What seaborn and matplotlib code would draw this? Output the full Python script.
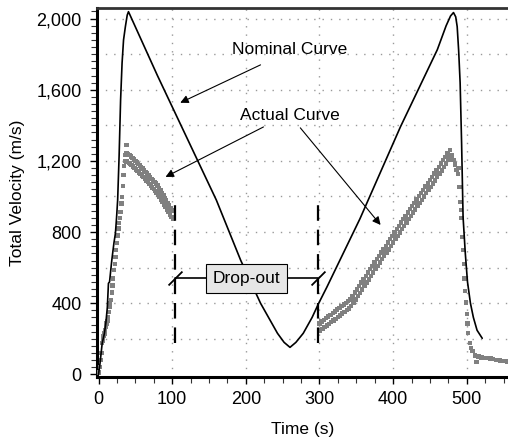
import matplotlib
matplotlib.use("Agg")
import matplotlib.pyplot as plt
import matplotlib.ticker as mticker
import numpy as np
import pandas as pd
import seaborn as sns

# nominal trajectory (black line)
nominal_t = [0, 2, 5, 8, 10, 12, 13.5, 15, 18, 21, 23, 24.5, 26, 28, 30, 32, 34, 36.5, 39, 40.7,
             80, 120, 160, 193, 220, 243, 252, 260, 268, 278, 290, 299, 310, 355, 410, 460,
             472, 478, 482, 485, 487, 489, 491, 493, 495, 498, 501, 505, 509, 514, 521]
nominal_v = [0, 60, 175, 230, 290, 377, 512, 520, 640, 740, 794, 880, 980, 1230, 1543, 1750, 1880, 1955, 2020, 2039,
             1680, 1330, 980, 642, 400, 231, 180, 152, 180, 231, 320, 400, 490, 875, 1392, 1825,
             1960, 2015, 2034, 2010, 1955, 1820, 1640, 1300, 885, 682, 520, 400, 320, 248, 203]

# actual trajectory (gray samples), before the drop-out
actual1_t = [1, 2, 3, 4, 5, 6, 7, 8, 9, 10, 11, 12, 13, 14, 15, 16, 17, 18, 19, 20,
             21, 22, 23, 24, 25, 26, 27, 28, 29, 30, 31, 32, 33, 34, 35, 36, 37, 38,
             36, 38, 40, 42, 44, 46, 48, 50, 52, 54, 56, 58, 60, 62, 64, 66, 68, 70,
             72, 74, 76, 78, 80, 82, 84, 86, 88, 90, 92, 94, 96, 98, 100,
             37, 39, 41, 43, 45, 47, 49, 51, 53, 55, 57, 59, 61, 63, 65, 67, 69, 71,
             73, 75, 77, 79, 81, 83, 85, 87, 89, 91, 93, 95, 97, 99, 101]
actual1_v = [10, 40, 80, 120, 175, 190, 215, 230, 250, 265, 285, 300, 320, 350, 380, 400, 417, 460, 500, 540,
             586, 620, 660, 700, 740, 780, 820, 850, 880, 912, 960, 997, 1060, 1120, 1170, 1200, 1240, 1290,
             1232, 1242, 1237, 1232, 1225, 1217, 1209, 1200, 1192, 1183, 1175, 1166, 1157, 1148, 1138, 1129, 1119, 1110,
             1100, 1091, 1081, 1072, 1062, 1048, 1034, 1020, 1006, 992, 978, 964, 950, 936, 922,
             1195, 1196, 1190, 1185, 1177, 1169, 1160, 1152, 1143, 1135, 1126, 1117, 1108, 1099, 1089, 1080, 1070, 1061,
             1051, 1042, 1032, 1023, 1011, 997, 983, 969, 955, 941, 927, 913, 899, 885, 872]

# actual trajectory after the drop-out
actual2_t = [300, 303, 306, 309, 312, 315, 318, 321, 324, 327, 330, 333, 336, 339, 342, 345, 348, 351, 354, 357,
             360, 363, 366, 369, 372, 375, 378, 381, 384, 387, 390, 393, 396, 399, 402, 405, 408, 411, 414, 417,
             420, 423, 426, 429, 432, 435, 438, 441, 444, 447, 450, 453, 456, 459, 462, 465, 468, 471, 474, 477,
             301, 304, 307, 310, 313, 316, 319, 322, 325, 328, 331, 334, 337, 340, 343, 346, 349, 352, 355, 358,
             361, 364, 367, 370, 373, 376, 379, 382, 385, 388, 391, 394, 397, 400, 403, 406, 409, 412, 415, 418,
             421, 424, 427, 430, 433, 436, 439, 442, 445, 448, 451, 454, 457, 460, 463, 466, 469, 472, 475, 478,
             480, 482, 484, 486, 488, 489, 490, 491, 492, 493, 494, 495, 496, 497, 498, 499, 500, 501, 502,
             504, 506, 508, 511, 513, 516, 520, 524, 528, 532, 536, 540, 545, 550, 555]
actual2_v = [287, 297, 306, 316, 325, 335, 345, 354, 364, 373, 383, 393, 402, 412, 422, 441, 460, 478, 497, 516,
             535, 554, 572, 591, 610, 629, 648, 666, 685, 704, 723, 741, 760, 779, 798, 816, 835, 854, 873, 891,
             910, 929, 947, 965, 984, 1002, 1020, 1038, 1057, 1075, 1093, 1111, 1129, 1148, 1167, 1185, 1204, 1223, 1242, 1261,
             246, 256, 265, 275, 284, 294, 304, 313, 323, 332, 342, 352, 361, 371, 384, 403, 422, 440, 459, 478,
             497, 516, 534, 553, 572, 591, 610, 628, 647, 666, 685, 703, 722, 741, 760, 778, 797, 816, 835, 853,
             872, 891, 909, 927, 946, 964, 982, 1000, 1019, 1037, 1055, 1073, 1091, 1110, 1129, 1147, 1166, 1185, 1204, 1222,
             1230, 1205, 1180, 1150, 1125, 1160, 1053, 970, 924, 878, 772, 700, 620, 540, 470, 405, 340, 287, 231,
             175, 150, 130, 107, 68, 100, 96, 93, 91, 90, 86, 82, 78, 74, 72]

nominal = pd.DataFrame({"t": nominal_t, "v": nominal_v})
actual = pd.DataFrame({"t": actual1_t + actual2_t, "v": actual1_v + actual2_v})

sns.set_style("white")
plt.rcParams["font.family"] = ["Liberation Sans", "DejaVu Sans"]
plt.rcParams["text.color"] = "black"
plt.rcParams["axes.labelcolor"] = "black"

fig = plt.figure(figsize=(5.08, 4.41), dpi=100)
ax = fig.add_axes([0.191, 0.145, 0.809, 0.837])

sns.scatterplot(data=actual, x="t", y="v", marker="s", s=10, color="#808080",
                edgecolor="none", linewidth=0, ax=ax, zorder=3)
sns.lineplot(data=nominal, x="t", y="v", color="black", lw=1.2, estimator=None,
             sort=False, ax=ax, zorder=4)

ax.set_xlim(-2, 556)
ax.set_ylim(-15, 2060)

ax.xaxis.set_major_locator(mticker.MultipleLocator(100))
ax.xaxis.set_minor_locator(mticker.MultipleLocator(25))
ax.yaxis.set_major_locator(mticker.MultipleLocator(400))
ax.yaxis.set_minor_locator(mticker.MultipleLocator(40))
ax.yaxis.set_major_formatter(mticker.FuncFormatter(lambda v, p: f"{int(v):,}"))

ax.tick_params(axis="both", which="major", direction="out", length=5, width=1,
               labelsize=13, colors="black", pad=5, left=True, bottom=True)
ax.tick_params(axis="y", which="major", pad=6)
ax.tick_params(axis="both", which="minor", direction="out", length=4, width=0.8,
               colors="#333333", left=True, bottom=True)

# dotted grid: every 100 s and 200 m/s
for gx in range(100, 600, 100):
    ax.axvline(gx, color="#999999", lw=1, ls=(0, (1, 5)), zorder=1)
for gy in range(200, 2200, 200):
    ax.axhline(gy, color="#999999", lw=1, ls=(0, (1, 5)), zorder=1)

for side in ["left", "bottom"]:
    ax.spines[side].set_linewidth(2.2)
    ax.spines[side].set_color("black")
ax.spines["top"].set_linewidth(2)
ax.spines["top"].set_color("#333333")
ax.spines["right"].set_visible(False)

ax.set_xlabel("Time (s)", fontsize=12.5, labelpad=10)
ax.set_ylabel("Total Velocity (m/s)", fontsize=12.5, labelpad=8)

# annotations
arrow = dict(arrowstyle="-|>", color="black", lw=0.8, mutation_scale=12, shrinkA=0, shrinkB=0)
ax.text(181, 1825, "Nominal Curve", fontsize=12.5, va="center", ha="left")
ax.annotate("", xy=(111, 1527), xytext=(220, 1740), arrowprops=arrow)
ax.text(260, 1453, "Actual Curve", fontsize=12.5, va="center", ha="center")
ax.annotate("", xy=(91, 1110), xytext=(224, 1391), arrowprops=arrow)
ax.annotate("", xy=(383, 840), xytext=(274, 1386), arrowprops=arrow)

# drop-out markers
for dx in [104.5, 298.5]:
    ax.plot([dx, dx], [175, 963], color="black", lw=1.6, ls=(0, (7, 4)), zorder=5)
ax.plot([104.5, 298.5], [540, 540], color="black", lw=1.2, zorder=5)
ax.plot([104.5, 298.5], [540, 540], ls="none", marker=[(-1, -1), (1, 1)], ms=10,
        mew=1.3, color="black", zorder=5)
ax.text(201, 540, "Drop-out", fontsize=12.5, ha="center", va="center", zorder=6,
        bbox=dict(boxstyle="square,pad=0.4", fc="#e6e6e6", ec="black", lw=0.8))

fig.savefig("out.png", dpi=100)
